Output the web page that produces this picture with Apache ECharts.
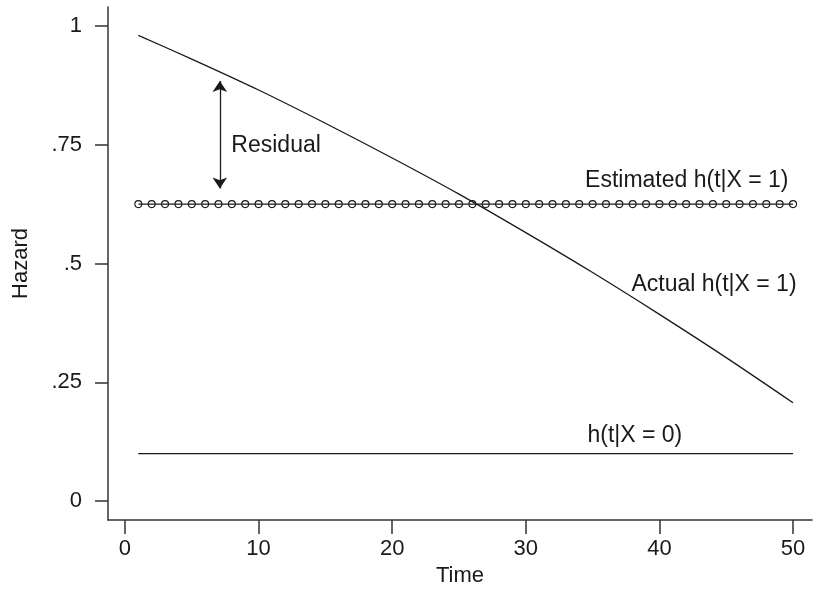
<!DOCTYPE html>
<html>
<head>
<meta charset="utf-8">
<script src="https://cdn.jsdelivr.net/npm/echarts@6/dist/echarts.min.js"></script>
<style>
html,body{margin:0;padding:0;background:#fff;}
#chart{width:817px;height:592px;}
</style>
</head>
<body>
<div id="chart"></div>
<script>
// ---- data ----
const times = [1,2,3,4,5,6,7,8,9,10,11,12,13,14,15,16,17,18,19,20,21,22,23,24,25,26,27,28,29,30,31,32,33,34,35,36,37,38,39,40,41,42,43,44,45,46,47,48,49,50];
const estimatedHazard = [0.625,0.625,0.625,0.625,0.625,0.625,0.625,0.625,0.625,0.625,0.625,0.625,0.625,0.625,0.625,0.625,0.625,0.625,0.625,0.625,0.625,0.625,0.625,0.625,0.625,0.625,0.625,0.625,0.625,0.625,0.625,0.625,0.625,0.625,0.625,0.625,0.625,0.625,0.625,0.625,0.625,0.625,0.625,0.625,0.625,0.625,0.625,0.625,0.625,0.625];
const actualTimes = [1,5,10,15,20,25,30,35,40,45,50];
const actualHazard = [0.980,0.930,0.865,0.795,0.722,0.646,0.565,0.481,0.393,0.302,0.207];
const baselineTimes = [1,50];
const baselineHazard = [0.1,0.1];
const yTicks = [0,0.25,0.5,0.75,1];
const yTickLabels = ['0','.25','.5','.75','1'];
const xTicks = [0,10,20,30,40,50];
const residualArrow = {t:7.1, from:0.658, to:0.884};
const labels = [
  {text:'Estimated h(t|X = 1)', t:49.7, v:0.673, align:'right'},
  {text:'Actual h(t|X = 1)', t:50.3, v:0.454, align:'right'},
  {text:'h(t|X = 0)', t:38.2, v:0.1375, align:'center'},
  {text:'Residual', t:8.0, v:0.746, align:'left'}
];

const FONT = "'Liberation Sans', Arial, Helvetica, sans-serif";
const INK = '#1a1a1a';

const chart = echarts.init(document.getElementById('chart'));
chart.setOption({
  animation:false,
  backgroundColor:'#fff',
  grid:{left:108, right:5, top:7, bottom:67, containLabel:false},
  xAxis:{
    type:'value', min:-1.27, max:51.42,
    name:'Time', nameLocation:'middle', nameGap:45,
    nameTextStyle:{fontFamily:FONT, fontSize:22, color:INK},
    axisLine:{show:true, onZero:false, lineStyle:{color:'#333', width:1.5}},
    axisTick:{show:true, length:14, customValues:xTicks, lineStyle:{color:'#333', width:1.5}},
    axisLabel:{show:true, customValues:xTicks, margin:18, fontFamily:FONT, fontSize:22, color:INK},
    splitLine:{show:false}
  },
  yAxis:{
    type:'value', min:-0.0396, max:1.0396,
    name:'Hazard', nameLocation:'middle', nameGap:76,
    nameTextStyle:{fontFamily:FONT, fontSize:22, color:INK},
    axisLine:{show:true, onZero:false, lineStyle:{color:'#333', width:1.5}},
    axisTick:{show:true, length:13, customValues:yTicks, lineStyle:{color:'#333', width:1.5}},
    axisLabel:{show:true, customValues:yTicks, margin:26, fontFamily:FONT, fontSize:22, color:INK,
      formatter:function(v){ const i = yTicks.indexOf(v); return i>=0 ? yTickLabels[i] : ''; }},
    splitLine:{show:false}
  },
  series:[
    {
      type:'line', name:'Actual',
      data: actualTimes.map((t,i)=>[t, actualHazard[i]]),
      smooth:0.3, showSymbol:false, symbol:'none',
      lineStyle:{color:INK, width:1.3},
      markLine:{
        silent:true, symbol:['arrow','arrow'], symbolSize:[11,11],
        label:{show:false},
        lineStyle:{color:INK, width:1.3, type:'solid'},
        data:[[{coord:[residualArrow.t, residualArrow.from]},{coord:[residualArrow.t, residualArrow.to]}]]
      }
    },
    {
      type:'line', name:'Estimated',
      data: times.map((t,i)=>[t, estimatedHazard[i]]),
      symbol:'circle', symbolSize:7, showSymbol:true,
      lineStyle:{color:INK, width:1.1},
      itemStyle:{color:'rgba(0,0,0,0)', borderColor:INK, borderWidth:1.1}
    },
    {
      type:'line', name:'Baseline',
      data: baselineTimes.map((t,i)=>[t, baselineHazard[i]]),
      symbol:'none', lineStyle:{color:INK, width:1.3}
    },
    {
      type:'scatter', name:'labels', silent:true,
      symbolSize:1, itemStyle:{color:'rgba(0,0,0,0)'},
      data: labels.map(l=>({value:[l.t,l.v], name:l.text,
        label:{show:true, position:[0,0], align:l.align, verticalAlign:'middle',
          formatter:l.text, fontFamily:FONT, fontSize:23, color:INK,
          textBorderWidth:0, opacity:1}}))
    }
  ]
});
</script>
</body>
</html>
